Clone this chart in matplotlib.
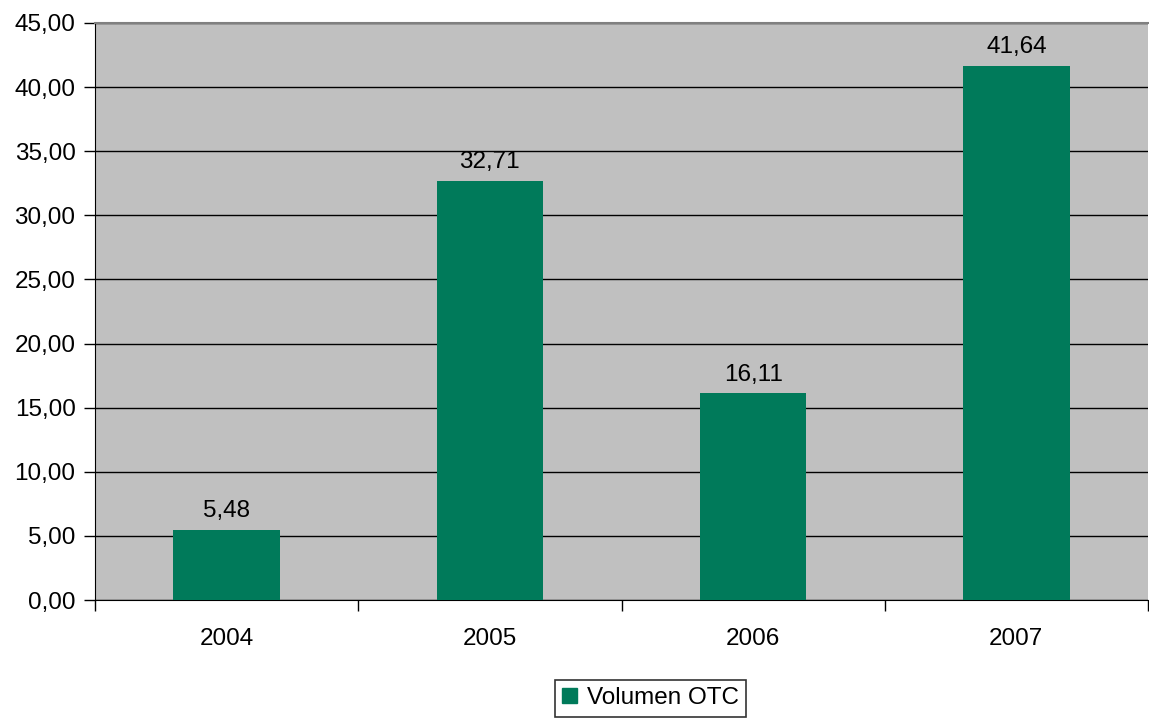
import numpy as np
import matplotlib
matplotlib.use('Agg')
import matplotlib.pyplot as plt
from matplotlib.patches import Patch

years = ['2004', '2005', '2006', '2007']
volumen_otc = [5.48, 32.71, 16.11, 41.64]

plt.rcParams['font.family'] = ['Liberation Sans', 'DejaVu Sans']

bar_color = '#007A5A'

fig = plt.figure(figsize=(11.49, 7.2), dpi=100)
ax = fig.add_axes([95/1149, 1 - 600/720, 1053/1149, 577/720])
ax.set_facecolor('#C0C0C0')

x = np.arange(len(years))
bars = ax.bar(x, volumen_otc, width=0.405, color=bar_color, zorder=3)

ax.set_xlim(-0.5, len(years) - 0.5)
ax.set_ylim(0, 45)
ax.set_yticks(np.arange(0, 46, 5))
ax.set_yticklabels([f'{v:.2f}'.replace('.', ',') for v in np.arange(0, 46, 5)], fontsize=17.5)
ax.yaxis.grid(True, color='black', linewidth=1, zorder=1)

ax.set_xticks(x)
ax.set_xticklabels(years, fontsize=17.5)
ax.tick_params(axis='x', length=0, pad=20)
ax.set_xticks(np.arange(-0.5, len(years)), minor=True)
ax.tick_params(axis='x', which='minor', length=8, width=1, color='black')
ax.tick_params(axis='y', length=8, width=1, color='black', pad=6)

for s in ['top', 'right']:
    ax.spines[s].set_color('#808080')
    ax.spines[s].set_linewidth(1.5)
ax.spines['right'].set_visible(False)
ax.spines['left'].set_color('black')
ax.spines['bottom'].set_color('black')

for b, v in zip(bars, volumen_otc):
    ax.text(b.get_x() + b.get_width() / 2, v + 0.6, f'{v:.2f}'.replace('.', ','),
            ha='center', va='bottom', fontsize=17.5, zorder=4)

leg = fig.legend(handles=[Patch(color=bar_color, label='Volumen OTC')],
                 loc='upper left', bbox_to_anchor=(555/1149, 1 - 680/720),
                 fontsize=17.5, frameon=True, fancybox=False, edgecolor='black',
                 handlelength=0.6, handleheight=0.6, handletextpad=0.4,
                 borderpad=0.3, borderaxespad=0)
leg.get_frame().set_linewidth(1.2)

fig.savefig('out.png', dpi=100)
